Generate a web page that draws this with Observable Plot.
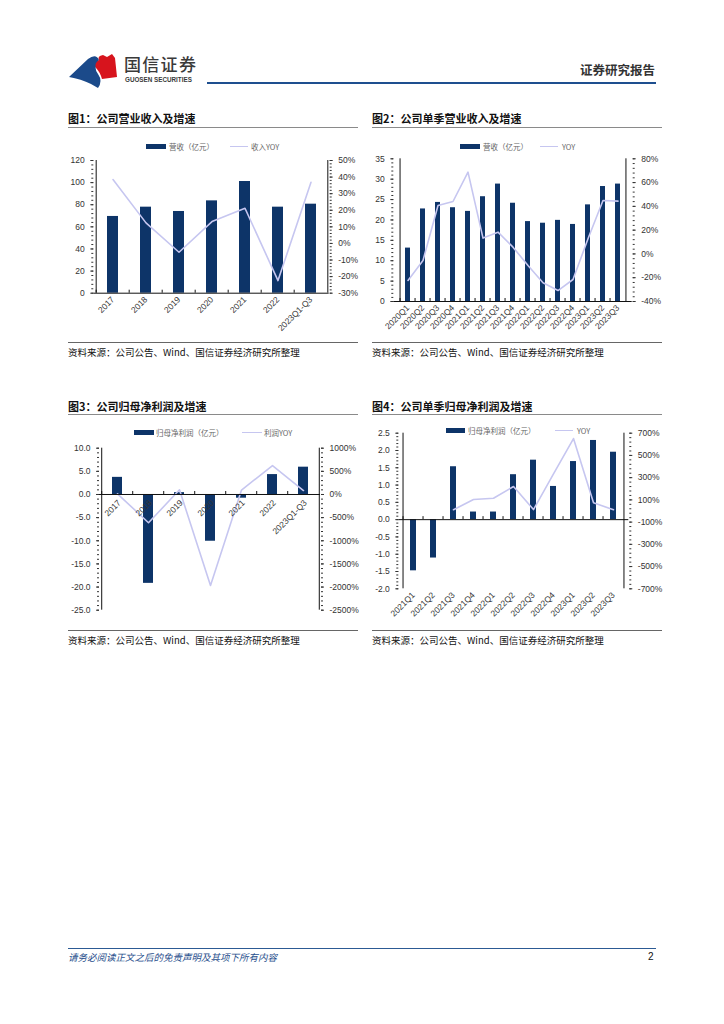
<!DOCTYPE html>
<html><head><meta charset="utf-8">
<script src="https://cdn.jsdelivr.net/npm/d3@7"></script>
<script src="https://cdn.jsdelivr.net/npm/@observablehq/plot@0.6"></script>
<style>
body{margin:0;width:724px;height:1024px;position:relative;background:#fff;font-family:"Noto Sans CJK SC","Noto Sans",sans-serif;overflow:hidden}
.abs{position:absolute;white-space:nowrap}
.title{font-size:11px;font-weight:bold;color:#111;line-height:16px}
.hr{position:absolute;height:0;border-top:1.5px solid #8a8a8a}
.src{font-size:9.5px;color:#111;line-height:14px}
.legt{font-size:7.5px;color:#666;line-height:10px}
.sw{position:absolute;height:5px;background:#0d3468}
.ln{position:absolute;height:0;border-top:1.5px solid #c6c6f0}
.chart{position:absolute}
</style></head><body>

<!-- header -->
<svg class="abs" style="left:0;top:0" width="130" height="95">
  <path d="M69,77 L88,59 Q96,53 99,60 Q93,68 98,74 Q103,81 98,88 L91,84 Q81,79 69,77 Z" fill="#1b4a8a"/>
  <path d="M99,60 Q97,56 103,55 L107,57 L112,54 L115,58 L117,77 L102,79 Q100,72 96,68 Q94,63 99,60 Z" fill="#d7141d"/>
</svg>
<div class="abs" style="left:124px;top:54px;font-size:17px;color:#3a3a3a;letter-spacing:1.3px;line-height:20px;font-weight:500">国信证券</div>
<div class="abs" style="left:125px;top:76px;font-family:'Liberation Sans',Arial,sans-serif;font-size:6.3px;font-weight:bold;color:#3a3a3a;line-height:8px">GUOSEN SECURITIES</div>
<div class="abs" style="left:580px;top:62px;font-size:12.5px;font-weight:bold;color:#333;line-height:16px">证券研究报告</div>
<div class="abs" style="left:207px;top:82px;width:449px;height:2px;background:#1e4f8f"></div>

<!-- chart 1 -->
<div class="abs title" style="left:68px;top:110px">图1：公司营业收入及增速</div>
<div class="hr" style="left:68px;top:127px;width:290px"></div>
<div class="sw" style="left:146px;top:144px;width:20px"></div>
<div class="abs legt" style="left:169px;top:142px">营收（亿元）</div>
<div class="ln" style="left:230px;top:146px;width:18px"></div>
<div class="abs legt" style="left:251px;top:142px">收入YOY</div>
<div id="c1" class="chart" style="left:60px;top:150px"></div>
<div class="hr" style="left:68px;top:342px;width:290px;border-color:#666"></div>
<div class="abs src" style="left:68px;top:345px">资料来源：公司公告、Wind、国信证券经济研究所整理</div>

<!-- chart 2 -->
<div class="abs title" style="left:372px;top:110px">图2：公司单季营业收入及增速</div>
<div class="hr" style="left:372px;top:127px;width:290px"></div>
<div class="sw" style="left:460px;top:144px;width:20px"></div>
<div class="abs legt" style="left:483px;top:142px">营收（亿元）</div>
<div class="ln" style="left:540px;top:146px;width:18px"></div>
<div class="abs legt" style="left:562px;top:142px">YOY</div>
<div id="c2" class="chart" style="left:365px;top:150px"></div>
<div class="hr" style="left:372px;top:342px;width:290px;border-color:#666"></div>
<div class="abs src" style="left:372px;top:345px">资料来源：公司公告、Wind、国信证券经济研究所整理</div>

<!-- chart 3 -->
<div class="abs title" style="left:68px;top:398px">图3：公司归母净利润及增速</div>
<div class="hr" style="left:68px;top:414px;width:290px"></div>
<div class="sw" style="left:134px;top:430px;width:20px"></div>
<div class="abs legt" style="left:156px;top:428px">归母净利润（亿元）</div>
<div class="ln" style="left:242px;top:432px;width:20px"></div>
<div class="abs legt" style="left:264px;top:428px">利润YOY</div>
<div id="c3" class="chart" style="left:60px;top:440px"></div>
<div class="hr" style="left:68px;top:630px;width:290px;border-color:#666"></div>
<div class="abs src" style="left:68px;top:633px">资料来源：公司公告、Wind、国信证券经济研究所整理</div>

<!-- chart 4 -->
<div class="abs title" style="left:372px;top:398px">图4：公司单季归母净利润及增速</div>
<div class="hr" style="left:372px;top:414px;width:290px"></div>
<div id="c4" class="chart" style="left:365px;top:425px"></div>
<div class="sw" style="left:446px;top:428px;width:19px"></div>
<div class="abs legt" style="left:468px;top:426px;background:#fff">归母净利润（亿元）</div>
<div class="ln" style="left:555px;top:430px;width:18px"></div>
<div class="abs legt" style="left:577px;top:426px">YOY</div>
<div class="hr" style="left:372px;top:630px;width:290px;border-color:#666"></div>
<div class="abs src" style="left:372px;top:633px">资料来源：公司公告、Wind、国信证券经济研究所整理</div>

<!-- footer -->
<div class="abs" style="left:68px;top:948px;width:588px;height:1px;background:#2c5a94"></div>
<div class="abs" style="left:68px;top:950px;font-size:9.5px;font-style:italic;color:#1f4e8c;line-height:14px">请务必阅读正文之后的免责声明及其项下所有内容</div>
<div class="abs" style="left:648px;top:950px;font-size:10px;color:#111;line-height:14px;font-family:'Liberation Sans',Arial,sans-serif">2</div>

<script>
// ---------- data ----------
const c1Cats = ["2017","2018","2019","2020","2021","2022","2023Q1-Q3"];
const c1Revenue = [69.4, 77.8, 73.9, 83.5, 101.0, 77.8, 80.5];
const c1Yoy = [38.5, 12.4, -5.3, 13.2, 21.2, -22.4, 36.9];
const c1LeftTicks = [0, 20, 40, 60, 80, 100, 120];
const c1RightTicks = [-30, -20, -10, 0, 10, 20, 30, 40, 50];

const c2Cats = ["2020Q1","2020Q2","2020Q3","2020Q4","2021Q1","2021Q2","2021Q3","2021Q4","2022Q1","2022Q2","2022Q3","2022Q4","2023Q1","2023Q2","2023Q3"];
const c2Revenue = [13.1, 22.7, 24.3, 23.0, 22.1, 25.7, 28.8, 24.1, 19.6, 19.2, 19.9, 18.9, 23.7, 28.2, 28.8];
const c2Yoy = [-22.3, -5.5, 40.7, 44.1, 68.8, 13.3, 18.3, 5.7, -9.7, -24.3, -30.8, -21.5, 12.7, 44.9, 44.4];
const c2LeftTicks = [0, 5, 10, 15, 20, 25, 30, 35];
const c2RightTicks = [-40, -20, 0, 20, 40, 60, 80];

const c3Cats = ["2017","2018","2019","2020","2021","2022","2023Q1-Q3"];
const c3Profit = [3.7, -19.2, 0.4, -10.1, -0.8, 4.3, 5.9];
const c3Yoy = [15, -611, 101, -1965, 95, 626, 86];
const c3LeftTicks = [-25, -20, -15, -10, -5, 0, 5, 10];
const c3RightTicks = [-2500, -2000, -1500, -1000, -500, 0, 500, 1000];

const c4Cats = ["2021Q1","2021Q2","2021Q3","2021Q4","2022Q1","2022Q2","2022Q3","2022Q4","2023Q1","2023Q2","2023Q3"];
const c4Profit = [-1.48, -1.11, 1.53, 0.22, 0.22, 1.30, 1.72, 0.96, 1.68, 2.29, 1.95];
const c4Yoy = [null, null, 11, 103, 115, 220, 13, 335, 652, 74, 11];
const c4LeftTicks = [-2, -1.5, -1, -0.5, 0, 0.5, 1, 1.5, 2, 2.5];
const c4RightTicks = [-700, -500, -300, -100, 100, 300, 500, 700];

// ---------- styling ----------
const BAR = "#0d3468";
const LINE = "#c6c6f0";
const hy = s => s.replace(/\u2212/g, "-");

function dual(cfg) {
  const {cats, bars, yoy, lDom, rDom, lTicks, rTicks, lMinor, rMinor, lFmt, rFmt,
         width, height, mL, mR, mT, mB, pad, labelsAtZero} = cfg;
  const toL = v => lDom[0] + (v - rDom[0]) / (rDom[1] - rDom[0]) * (lDom[1] - lDom[0]);
  const toR = v => rDom[0] + (v - lDom[0]) / (lDom[1] - lDom[0]) * (rDom[1] - rDom[0]);
  const rows = cats.map((c, i) => ({cat: c, v: bars[i], yoy: yoy[i]}));
  const step = (width - mL - mR) / cats.length;
  const marks = [
    Plot.barY(rows, {x: "cat", y: "v", fill: BAR}),
    Plot.line(rows.filter(d => d.yoy != null), {x: "cat", y: d => toL(d.yoy), stroke: LINE, strokeWidth: 1.6}),
    Plot.ruleY([0], {stroke: "#111", strokeWidth: 1}),
    Plot.ruleX(cats, {x: d => d, y1: () => 0, y2: () => 0, insetTop: -3, dx: -step / 2, stroke: "#111"}),
    Plot.ruleX([cats[0]], {x: d => d, y1: () => lDom[0], y2: () => lDom[1], dx: -step / 2, stroke: "#111"}),
    Plot.ruleX([cats[cats.length - 1]], {x: d => d, y1: () => lDom[0], y2: () => lDom[1], dx: step / 2, stroke: "#111"}),
    Plot.axisY({anchor: "left", ticks: lMinor, tickSize: 2, tickFormat: () => "", label: null}),
    Plot.axisY({anchor: "left", ticks: lTicks, tickSize: 3, tickPadding: 6, tickFormat: lFmt, label: null}),
    Plot.axisY({anchor: "right", ticks: rMinor.map(toL), tickSize: 2, tickFormat: () => "", label: null}),
    Plot.axisY({anchor: "right", ticks: rTicks.map(toL), tickSize: 3, tickPadding: 6,
                tickFormat: v => rFmt(Math.round(toR(v))), label: null})
  ];
  if (labelsAtZero) {
    marks.push(Plot.text(rows, {x: "cat", y: () => 0, text: "cat", rotate: -45, textAnchor: "end",
      dy: 7, dx: 2, fontSize: 8.5, fill: "#333"}));
  } else {
    marks.push(Plot.axisX({anchor: "bottom", tickRotate: -45, tickSize: 0, tickPadding: 5, label: null}));
  }
  return Plot.plot({
    width, height, marginLeft: mL, marginRight: mR, marginTop: mT, marginBottom: mB,
    style: {fontFamily: '"Liberation Sans", Arial, sans-serif', fontSize: "8.5px", color: "#333", background: "transparent", overflow: "visible"},
    x: {type: "band", domain: cats, paddingInner: pad, paddingOuter: pad / 2, axis: null},
    y: {domain: lDom, axis: null},
    marks
  });
}

const pct = v => hy(String(v)) + "%";

document.getElementById("c1").append(dual({
  cats: c1Cats, bars: c1Revenue, yoy: c1Yoy, lDom: [0, 120], rDom: [-30, 50],
  lTicks: c1LeftTicks, rTicks: c1RightTicks, lMinor: d3.range(0, 121, 4), rMinor: d3.range(-30, 51, 2),
  lFmt: d => hy(String(d)), rFmt: pct,
  width: 300, height: 200, mL: 33.3, mR: 31.3, mT: 10, mB: 57.3, pad: 0.68
}));

document.getElementById("c2").append(dual({
  cats: c2Cats, bars: c2Revenue, yoy: c2Yoy, lDom: [0, 35], rDom: [-40, 80],
  lTicks: c2LeftTicks, rTicks: c2RightTicks, lMinor: d3.range(0, 35.1, 1), rMinor: d3.range(-40, 81, 4),
  lFmt: d => hy(String(d)), rFmt: pct,
  width: 300, height: 200, mL: 28.3, mR: 33.3, mT: 8.3, mB: 49, pad: 0.69
}));

document.getElementById("c3").append(dual({
  cats: c3Cats, bars: c3Profit, yoy: c3Yoy, lDom: [-25, 10], rDom: [-2500, 1000],
  lTicks: c3LeftTicks, rTicks: c3RightTicks, lMinor: d3.range(-25, 10.1, 1), rMinor: d3.range(-2500, 1001, 100),
  lFmt: d => hy(d3.format(".1f")(d)), rFmt: pct,
  width: 300, height: 180, mL: 39, mR: 40, mT: 7.7, mB: 10.3, pad: 0.68, labelsAtZero: true
}));

document.getElementById("c4").append(dual({
  cats: c4Cats, bars: c4Profit, yoy: c4Yoy, lDom: [-2, 2.5], rDom: [-700, 700],
  lTicks: c4LeftTicks, rTicks: c4RightTicks, lMinor: d3.range(-20, 25.1, 1).map(v => v / 10), rMinor: d3.range(-700, 701, 40),
  lFmt: d => hy(d3.format(".1f")(d)), rFmt: pct,
  width: 300, height: 200, mL: 33.3, mR: 36.7, mT: 7.7, mB: 36.7, pad: 0.7
}));
</script>
</body></html>
